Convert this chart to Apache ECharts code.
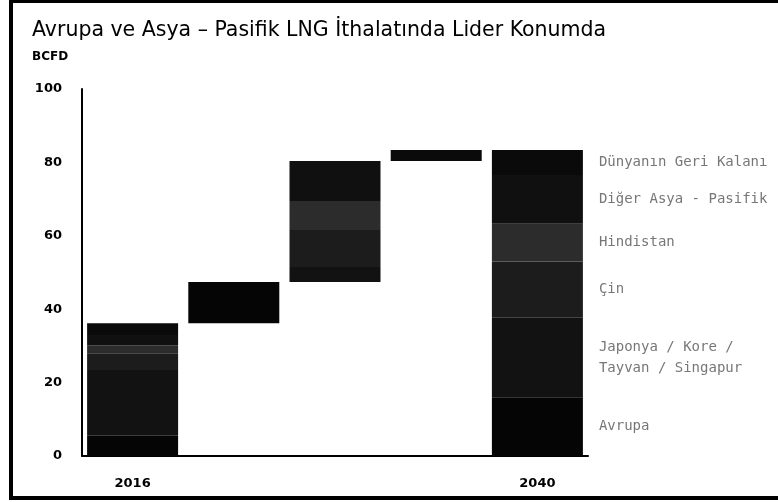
<!DOCTYPE html>
<html lang="tr">
<head>
    <meta charset="UTF-8">
    <title>Avrupa ve Asya – Pasifik LNG İthalatı</title>
    <script src="https://cdn.jsdelivr.net/npm/echarts@6/dist/echarts.min.js"></script>
    <style>
        html, body { margin: 0; padding: 0; background: #fff; }
        #main { width: 778px; height: 502px; }
    </style>
</head>
<body>
<div id="main"></div>
<script>
    // kategoriler (ortadaki çubuklar etiketsiz)
    var categories = ['2016', '', '', '', '2040'];
    var yTicks = [0, 20, 40, 60, 80, 100];

    // şelale: görünmez taban
    var base = [0, 36.2, 47.4, 80.4, 0];

    // bölgeler (BCFD)
    var avrupa    = [5.5, 11.2, 0, 0, 16.0];
    var japonya   = [17.9, 0, 4.1, 0, 21.7];
    var cin       = [4.6, 0, 10.1, 0, 15.3];
    var hindistan = [2.2, 0, 7.9, 0, 10.3];
    var digerAsya = [2.8, 0, 10.9, 0, 13.3];
    var dunya     = [3.2, 0, 0, 3.0, 6.8];

    var segNames = ['Avrupa', 'Japonya / Kore /\nTayvan / Singapur', 'Çin', 'Hindistan', 'Diğer Asya - Pasifik', 'Dünyanın Geri Kalanı'];
    var segData = [avrupa, japonya, cin, hindistan, digerAsya, dunya];
    var segColors = ['#050505', '#121212', '#1c1c1c', '#2c2c2c', '#101010', '#0a0a0a'];

    var myChart = echarts.init(document.getElementById('main'));

    var series = [{
        name: 'base',
        type: 'bar',
        stack: 'total',
        barWidth: 91,
        itemStyle: {color: 'transparent'},
        silent: true,
        data: base
    }];
    segData.forEach(function (d, i) {
        series.push({
            name: segNames[i],
            type: 'bar',
            stack: 'total',
            barWidth: 91,
            itemStyle: {color: segColors[i]},
            label: {
                show: true,
                position: 'right',
                distance: 16,
                color: '#777',
                fontSize: 14,
                fontFamily: 'DejaVu Sans Mono',
                lineHeight: 21,
                formatter: function (p) {
                    return p.dataIndex === 4 ? segNames[i] : '';
                }
            },
            data: d
        });
    });

    option = {
        animation: false,
        backgroundColor: '#fff',
        title: {
            text: 'Avrupa ve Asya – Pasifik LNG İthalatında Lider Konumda',
            subtext: 'BCFD',
            left: 27,
            top: 15,
            itemGap: 10,
            textStyle: {
                fontFamily: 'DejaVu Sans',
                fontSize: 20.5,
                fontWeight: 'normal',
                color: '#000'
            },
            subtextStyle: {
                fontFamily: 'DejaVu Sans',
                fontSize: 12,
                fontWeight: 'bold',
                color: '#000'
            }
        },
        grid: {
            left: 82,
            top: 89,
            width: 506,
            bottom: 46,
            containLabel: false
        },
        xAxis: {
            type: 'category',
            data: categories,
            axisLine: {lineStyle: {color: '#000', width: 2}},
            axisTick: {show: false},
            axisLabel: {
                margin: 21,
                color: '#000',
                fontFamily: 'DejaVu Sans',
                fontWeight: 'bold',
                fontSize: 13
            }
        },
        yAxis: {
            type: 'value',
            min: yTicks[0],
            max: yTicks[yTicks.length - 1],
            interval: 20,
            axisLine: {show: true, lineStyle: {color: '#000', width: 2}},
            axisTick: {show: false},
            splitLine: {show: false},
            axisLabel: {
                margin: 20,
                color: '#000',
                fontFamily: 'DejaVu Sans',
                fontWeight: 'bold',
                fontSize: 13
            }
        },
        graphic: [{
            type: 'rect',
            shape: {x: 11, y: 1, width: 800, height: 497},
            style: {fill: 'none', stroke: '#000', lineWidth: 4},
            silent: true
        }],
        series: series
    };
    myChart.setOption(option);
</script>
</body>
</html>
